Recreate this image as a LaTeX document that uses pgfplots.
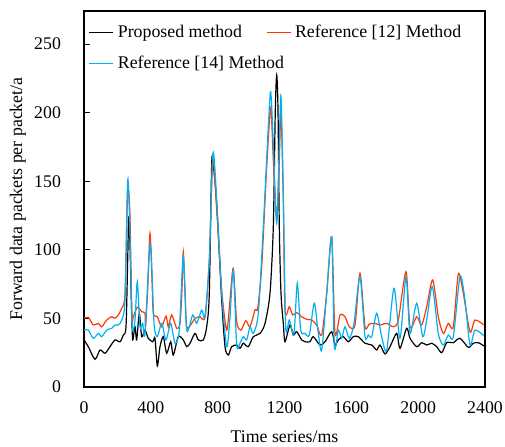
\documentclass[border=0pt]{standalone}
\usepackage{fontspec}
\setmainfont{Liberation Serif}
\usepackage{pgfplots}
\pgfplotsset{compat=1.18}
\definecolor{refred}{RGB}{255,55,5}
\definecolor{refblue}{RGB}{0,176,240}
\begin{document}
\begin{tikzpicture}[font=\fontsize{8.9}{10.7}\selectfont]
\begin{axis}[
    width=200.5pt, height=188pt, scale only axis,
    xmin=0, xmax=2400, ymin=0, ymax=274,
    xtick={0,400,...,2400}, ytick={0,50,...,250},
    /pgf/number format/assume math mode=true,
    /pgf/number format/set thousands separator={},
    xtick style={draw=none},
    ytick style={black, line width=0.4pt},
    tick align=inside, major tick length=3pt,
    ytick pos=left,
    yticklabel style={xshift=-8pt},
    xticklabel style={yshift=-4pt},
    axis line style={line width=0.6pt},
    xlabel={Time series/ms},
    ylabel={Forward data packets per packet/a},
    xlabel style={at={(axis description cs:0.5,-0.133)}, anchor=center},
    ylabel style={at={(axis description cs:-0.165,0.5)}, anchor=center},
    legend columns=2,
    legend style={at={(axis description cs:-0.004,0.985)}, anchor=north west,
        draw=none, fill=none, row sep=3.5pt,
        /tikz/every even column/.style={column sep=10pt}},
    legend cell align=left,
    legend image post style={xscale=0.7},
    every axis plot/.append style={line width=0.6pt, smooth, tension=0.45},
]
% Proposed method
\addplot[black] coordinates {
(0,34.3) (25.7,29.4) (65.8,20.2) (95.8,27.0) (125.7,24.6) (155.6,29.4)
(185.5,34.3) (215.5,33.0) (235.2,37.9) (251.4,43.9) (261.5,92.6) (267.5,123.0)
(275.3,102.3) (285.5,53.7) (291.5,34.3) (305.2,43.9) (315.4,34.3) (331.0,53.7)
(345.3,36.7) (365.1,41.5) (384.8,35.5) (411.2,33.0) (424.9,35.5) (438.7,15.3)
(454.9,29.4) (474.6,36.7) (494.9,24.6) (518.9,33.0) (534.5,23.3) (564.4,36.7)
(594.3,34.3) (614.7,29.4) (634.4,31.9) (664.3,39.1) (684.1,34.3) (714.0,34.3)
(734.4,43.9) (749.9,68.3) (764.3,163.0) (773.9,161.8) (790.0,141.2) (803.8,112.0)
(824.1,63.4) (843.9,29.4) (863.6,23.3) (884.0,29.4) (913.9,30.6) (933.7,28.2)
(953.4,31.9) (983.4,29.4) (1013.3,36.7) (1053.4,39.1) (1083.3,46.4) (1113.2,68.3)
(1133.0,116.8) (1145.0,201.9) (1153.3,227.4) (1161.1,201.9) (1168.9,116.8)
(1179.0,68.3) (1192.8,46.4) (1203.0,33.0) (1232.9,45.2) (1252.6,37.9) (1273.0,40.3)
(1302.9,34.3) (1322.7,33.0) (1352.6,33.0) (1372.4,36.7) (1412.5,30.6) (1442.4,33.0)
(1482.5,40.3) (1502.2,30.6) (1522.0,34.3) (1551.9,36.7) (1581.8,33.0) (1611.7,36.7)
(1641.7,36.7) (1681.8,31.9) (1721.9,30.6) (1751.8,27.0) (1771.6,30.6) (1801.5,24.1)
(1831.4,29.4) (1871.5,39.1) (1891.3,28.2) (1931.4,42.8) (1951.1,35.5) (1991.2,29.4)
(2021.1,32.3) (2051.1,30.6) (2081.0,31.9) (2110.9,29.4) (2140.8,25.0) (2170.8,32.3)
(2210.3,32.3) (2250.4,35.5) (2300.0,28.9) (2330.0,31.9) (2359.9,32.3) (2394,29.9)
};
\addlegendentry{Proposed method}
% Reference [12]
\addplot[refred] coordinates {
(0,50.1) (25.7,50.8) (55.7,45.2) (85.6,46.4) (105.9,43.9) (135.9,48.8) (165.8,51.2)
(185.5,50.1) (205.3,52.5) (225.6,57.4) (245.4,68.3) (261.5,143.6) (275.3,124.1)
(285.5,51.2) (295.1,51.2) (319.0,58.1) (345.3,54.9) (365.1,53.7) (368,43.9)
(381,70.7) (395.0,112.0) (407,78) (414.8,53.7) (438.7,51.2) (465.0,43.9) (490.8,51.7)
(504.5,43.9) (524.9,52.5) (554.8,42.8) (574.6,46.4) (586.5,70.7) (594.3,98.6)
(604.5,70.7) (614.7,43.9) (644.6,46.4) (664.3,50.1) (694.3,51.2) (724.2,51.2)
(749.9,92.6) (770.3,165.5) (794.2,129.0) (824.1,70.7) (854.1,41.5) (873.8,63.4)
(893.6,86.5) (913.9,47.6) (939.6,41.5) (967.8,48.3) (993.5,43.9) (1023.4,56.1)
(1039.6,57.4) (1063.5,87.7) (1093.5,160.6) (1117.4,203.1) (1133.0,165.5)
(1153.3,121.7) (1168.9,165.5) (1179.0,200.7) (1192.8,136.3) (1203.0,56.1)
(1228.7,58.5) (1249.1,52.5) (1273.0,54.2) (1302.9,51.2) (1332.9,49.3) (1362.8,48.8)
(1392.7,45.2) (1422.6,37.9) (1452.6,68.3) (1482.5,109.5) (1502.2,39.1) (1532.2,52.5)
(1562.1,51.2) (1587.8,43.9) (1621.9,45.2) (1651.8,82.9) (1681.8,43.9) (1707.5,45.9)
(1741.6,46.4) (1771.6,45.2) (1811.7,46.4) (1851.1,43.9) (1881.1,48.8) (1927.2,84.0)
(1951.1,43.9) (1991.2,51.2) (2021.1,45.2) (2051.1,58.5) (2087.0,78.0) (2120.5,51.2)
(2150.4,39.1) (2180.4,46.4) (2210.3,43.9) (2240.2,82.4) (2270.1,68.3) (2310.2,40.3)
(2340.1,48.8) (2394,45.2)
};
\addlegendentry{Reference [12] Method}
% Reference [14]
\addplot[refblue] coordinates {
(0,41.5) (25.7,41.5) (55.7,35.5) (85.6,39.1) (105.9,36.7) (135.9,41.5) (165.8,42.8)
(185.5,45.2) (205.3,45.2) (225.6,48.8) (245.4,63.4) (261.5,150.9) (275.3,112.0)
(289.1,43.9) (305.2,48.8) (319.0,76.7) (335.2,43.9) (351.3,46.4) (365.1,39.1)
(396.8,104.7) (419.0,46.4) (438.7,36.7) (465.0,46.4) (490.8,34.3) (518.9,46.4)
(544.6,31.9) (570.4,41.5) (594.3,95.0) (614.7,41.5) (650.6,52.5) (674.5,46.4)
(704.4,56.1) (724.2,51.2) (749.9,92.6) (772.1,170.3) (794.2,136.3) (824.1,68.3)
(854.1,29.4) (873.8,51.2) (893.6,85.3) (913.9,30.6) (933.7,31.9) (953.4,36.7)
(973.8,34.3) (993.5,43.9) (1013.3,39.1) (1043.2,53.7) (1073.1,116.8) (1103.1,189.7)
(1117.4,215.2) (1133.0,177.6) (1153.3,119.3) (1168.9,177.6) (1179.0,212.1)
(1192.8,141.2) (1207.1,43.9) (1228.7,48.8) (1256.9,39.1) (1276.6,75.6) (1297.0,41.5)
(1322.7,39.1) (1348.4,37.9) (1378.3,61.0) (1402.3,39.1) (1422.6,27.0) (1452.6,68.3)
(1482.5,109.5) (1498.1,29.4) (1522.0,41.5) (1542.3,35.5) (1562.1,43.9) (1587.8,35.5)
(1615.9,46.4) (1651.8,80.4) (1681.8,36.7) (1701.5,37.9) (1721.9,36.7) (1751.8,53.7)
(1781.7,36.7) (1811.7,27.0) (1855.4,71.9) (1891.3,35.5) (1927.2,80.4) (1951.1,39.1)
(1991.2,61.0) (2027.1,36.7) (2051.1,48.8) (2084.6,73.1) (2120.5,39.1) (2150.4,30.6)
(2180.4,37.9) (2210.3,36.7) (2250.4,80.4) (2280.3,63.4) (2310.2,30.6) (2340.1,41.5)
(2394,37.2)
};
\addlegendentry{\rlap{Reference [14] Method}}
\end{axis}
\pgfresetboundingbox
\path[use as bounding box] ([xshift=-42pt,yshift=-29.5pt]current axis.south west)
    rectangle ([xshift=10pt,yshift=5.5pt]current axis.north east);
\end{tikzpicture}
\end{document}
